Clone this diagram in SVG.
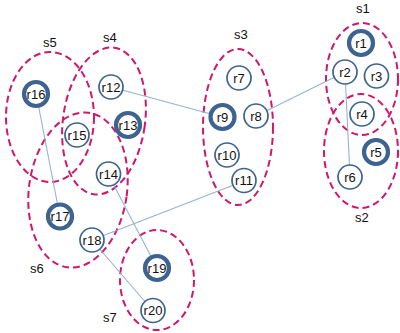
<svg xmlns="http://www.w3.org/2000/svg" width="400" height="333" viewBox="0 0 400 333">
<style>
.set{fill:none;stroke:#d0186b;stroke-width:2;stroke-dasharray:7,4}
.lbl{font-family:"Liberation Sans",Arial,sans-serif;font-size:13px;fill:#111}
.n circle{fill:#fff;stroke:#3d6390;stroke-width:1.7}
.n.big circle{stroke-width:4.2}
.n text{font-family:"Liberation Sans",Arial,sans-serif;font-size:13px;fill:#111;text-anchor:middle}
.e{stroke:#93b3d3;stroke-width:1.1;fill:none}
</style>
<rect width="400" height="333" fill="#fff"/>
<g id="sets">
<ellipse class="set" cx="362" cy="79" rx="36" ry="56"/>
<ellipse class="set" cx="361" cy="151" rx="37" ry="57"/>
<ellipse class="set" cx="238" cy="127" rx="35" ry="78"/>
<ellipse class="set" cx="104" cy="121" rx="41" ry="74" transform="rotate(8 104 121)"/>
<ellipse class="set" cx="50" cy="117" rx="44" ry="65"/>
<ellipse class="set" cx="78" cy="190" rx="49" ry="78" transform="rotate(8 78 190)"/>
<ellipse class="set" cx="157" cy="280" rx="37" ry="50"/>
<text class="lbl" x="356" y="13">s1</text>
<text class="lbl" x="355" y="222">s2</text>
<text class="lbl" x="234" y="39">s3</text>
<text class="lbl" x="103" y="42">s4</text>
<text class="lbl" x="43" y="47">s5</text>
<text class="lbl" x="30" y="273">s6</text>
<text class="lbl" x="103" y="322">s7</text>
</g>
<g id="connectors">
<line class="e" x1="111" y1="87" x2="222" y2="117"/>
<line class="e" x1="256" y1="116" x2="345" y2="72"/>
<line class="e" x1="345" y1="72" x2="350" y2="177"/>
<line class="e" x1="36" y1="93" x2="60" y2="217"/>
<line class="e" x1="108" y1="174" x2="157" y2="268"/>
<line class="e" x1="244" y1="181" x2="92" y2="240"/>
<line class="e" x1="92" y1="240" x2="153" y2="311"/>
</g>
<g id="r1" class="n big"><circle cx="361" cy="43" r="12"/><text x="361" y="47.5">r1</text></g>
<g id="r2" class="n"><circle cx="345" cy="72" r="12"/><text x="345" y="76.5">r2</text></g>
<g id="r3" class="n"><circle cx="376.5" cy="76" r="12"/><text x="376.5" y="80.5">r3</text></g>
<g id="r4" class="n"><circle cx="362" cy="114" r="12"/><text x="362" y="118.5">r4</text></g>
<g id="r5" class="n big"><circle cx="376" cy="152" r="12"/><text x="376" y="156.5">r5</text></g>
<g id="r6" class="n"><circle cx="350" cy="177" r="12"/><text x="350" y="181.5">r6</text></g>
<g id="r7" class="n"><circle cx="239" cy="78" r="12"/><text x="239" y="82.5">r7</text></g>
<g id="r8" class="n"><circle cx="256" cy="116" r="12"/><text x="256" y="120.5">r8</text></g>
<g id="r9" class="n big"><circle cx="222.5" cy="117" r="12"/><text x="222.5" y="121.5">r9</text></g>
<g id="r10" class="n"><circle cx="227" cy="155" r="12"/><text x="227" y="159.5">r10</text></g>
<g id="r11" class="n"><circle cx="244" cy="180.5" r="12"/><text x="244" y="185">r11</text></g>
<g id="r12" class="n"><circle cx="111" cy="87" r="12"/><text x="111" y="91.5">r12</text></g>
<g id="r13" class="n big"><circle cx="128" cy="125" r="12"/><text x="128" y="129.5">r13</text></g>
<g id="r14" class="n"><circle cx="108.5" cy="174" r="12"/><text x="108.5" y="178.5">r14</text></g>
<g id="r15" class="n"><circle cx="77" cy="135" r="12"/><text x="77" y="139.5">r15</text></g>
<g id="r16" class="n big"><circle cx="36" cy="94" r="12"/><text x="36" y="98.5">r16</text></g>
<g id="r17" class="n big"><circle cx="60" cy="216.5" r="12"/><text x="60" y="221">r17</text></g>
<g id="r18" class="n"><circle cx="92" cy="240" r="12"/><text x="92" y="244.5">r18</text></g>
<g id="r19" class="n big"><circle cx="157" cy="268" r="12"/><text x="157" y="272.5">r19</text></g>
<g id="r20" class="n"><circle cx="153" cy="310.5" r="12"/><text x="153" y="315">r20</text></g>
</svg>
